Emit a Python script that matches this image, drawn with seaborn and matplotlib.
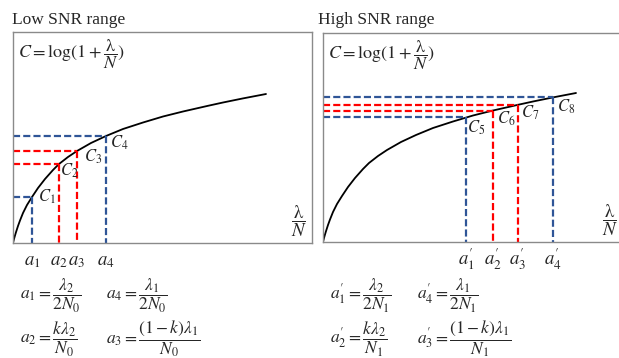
import numpy as np
import pandas as pd
import seaborn as sns
import matplotlib.pyplot as plt

sns.set_style('white')
plt.rcParams['font.family'] = ['Liberation Serif', 'DejaVu Serif']
plt.rcParams['mathtext.fontset'] = 'stix'

# capacity curve (same shape in both panels)
curve_x = [0, 1, 2, 3, 5, 7, 10, 14, 19, 25, 32, 40, 46, 55, 64, 78, 93,
           110, 130, 150, 170, 195, 210, 230, 253]
curve_c = [0, 4, 7.5, 10.8, 17, 22.5, 30, 38, 46, 55, 64, 73, 79, 86, 92,
           100, 107, 114, 120.5, 126.5, 131.5, 137.2, 140.5, 144.6, 149]

# operating points
low_a = [19, 46, 64, 93]
low_ca = [46, 79, 92, 107]
high_a = [143, 170, 195, 230]
high_ca = [125, 131.5, 137.2, 144.6]

low_ticks = [r'$a_1$', r'$a_2$', r'$a_3$', r'$a_4$']
high_ticks = [r'$a^{\prime}_1$', r'$a^{\prime}_2$', r'$a^{\prime}_3$',
              r'$a^{\prime}_4$']
low_clabels = [r'$C_1$', r'$C_2$', r'$C_3$', r'$C_4$']
high_clabels = [r'$C_5$', r'$C_6$', r'$C_7$', r'$C_8$']

guide_colors = ['#2F5597', '#FF0000', '#FF0000', '#2F5597']
low_offsets = [(4, 0), (1, -5), (5, -4), (3, -5)]
high_offsets = [(1, -8), (3, -6), (2, -6), (3, -7)]

W, H = 619, 358
fig = plt.figure(figsize=(W / 100, H / 100), dpi=100)


def px_axes(x0, y0, x1, y1):
    return fig.add_axes([x0 / W, 1 - y1 / H, (x1 - x0) / W, (y1 - y0) / H])


def panel(ax, xs, cs, a, ca, ticks, clabels, offsets, xlim, ylim, lab_x):
    df = pd.DataFrame({'x': xs, 'c': cs})
    sns.lineplot(data=df, x='x', y='c', ax=ax, color='black', lw=1.3,
                 sort=False)
    for xi, yi, col, lab, off in zip(a, ca, guide_colors, clabels, offsets):
        ax.plot([0, xi], [yi, yi], color=col, lw=1.6, dashes=(3.2, 1.4))
        ax.plot([xi, xi], [yi, 0], color=col, lw=1.6, dashes=(3.2, 1.4))
        ax.annotate(lab, (xi, yi), xytext=off, textcoords='offset points',
                    ha='left', va='center', fontsize=12)
    # axis labels under the guide lines, aligned on a common baseline
    for xi, t in zip(a, ticks):
        ax.annotate(t, (xi, 0), xycoords=('data', 'axes fraction'),
                    xytext=(0, -16), textcoords='offset points',
                    ha='center', va='baseline', fontsize=13.5,
                    annotation_clip=False)
    ax.set_xlim(*xlim)
    ax.set_ylim(*ylim)
    ax.set_xticks([])
    ax.set_yticks([])
    ax.set_xlabel('')
    ax.set_ylabel('')
    for s in ax.spines.values():
        s.set_color('#8a8a8a')
        s.set_linewidth(1.0)
    ax.text(0.018, 0.895, r'$C = \log(1 + \dfrac{\mathrm{\lambda}}{N})$',
            transform=ax.transAxes, fontsize=13, ha='left', va='center')
    ax.text(lab_x, 0.105, r'$\dfrac{\mathrm{\lambda}}{N}$',
            transform=ax.transAxes, fontsize=13.5, ha='center', va='center')


ax1 = px_axes(13, 32, 312, 243)
panel(ax1, curve_x, curve_c, low_a, low_ca, low_ticks, low_clabels,
      low_offsets, (0, 299), (0, 211), 0.955)
ax2 = px_axes(323, 33, 625, 242)
panel(ax2, curve_x, curve_c, high_a, high_ca, high_ticks, high_clabels,
      high_offsets, (0, 302), (0, 209), 0.95)

fig.text(12 / W, 1 - 19.5 / H, 'Low SNR range', fontsize=12.5,
         ha='left', va='center')
fig.text(318 / W, 1 - 19.5 / H, 'High SNR range', fontsize=12.5,
         ha='left', va='center')

formulas_low = [r'$a_1 = \dfrac{\lambda_2}{2N_0}$',
                r'$a_4 = \dfrac{\lambda_1}{2N_0}$',
                r'$a_2 = \dfrac{k\lambda_2}{N_0}$',
                r'$a_3 = \dfrac{(1-k)\lambda_1}{N_0}$']
formulas_high = [r'$a^{\prime}_1 = \dfrac{\lambda_2}{2N_1}$',
                 r'$a^{\prime}_4 = \dfrac{\lambda_1}{2N_1}$',
                 r'$a^{\prime}_2 = \dfrac{k\lambda_2}{N_1}$',
                 r'$a^{\prime}_3 = \dfrac{(1-k)\lambda_1}{N_1}$']
spots_low = [(20, 296), (106, 296), (20, 339), (106, 339)]
spots_high = [(330, 296), (417, 296), (330, 339), (417, 339)]
for f, (x, y) in zip(formulas_low + formulas_high, spots_low + spots_high):
    fig.text(x / W, 1 - y / H, f, fontsize=12.5, ha='left', va='center')

fig.savefig('out.png', dpi=100)
